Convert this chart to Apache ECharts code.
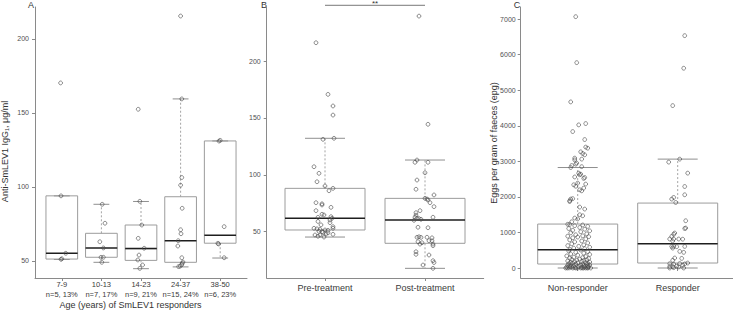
<!DOCTYPE html>
<html><head><meta charset="utf-8">
<script src="https://cdn.jsdelivr.net/npm/echarts@6/dist/echarts.min.js"></script>
<style>html,body{margin:0;padding:0;background:#fff}#c{width:733px;height:310px}</style>
</head><body><div id="c"></div>
<script>
// ---------- Panel A: anti-SmLEV1 IgG1 by age group ----------
const ageCategories = ['7-9', '10-13', '14-23', '24-37', '38-50'];
const ageCounts = ['n=5, 13%', 'n=7, 17%', 'n=9, 21%', 'n=15, 24%', 'n=6, 23%'];
// [lower whisker, Q1, median, Q3, upper whisker]
const ageBoxStats = [
  [51.0, 51.3, 55.2, 94.0, 94.0],
  [49.1, 52.5, 58.8, 68.7, 88.3],
  [44.8, 50.4, 58.4, 74.3, 90.2],
  [46.0, 49.1, 63.7, 93.4, 159.5],
  [52.0, 62.0, 67.4, 131.1, 131.1]
];
const ageValues = [
  [170.3, 94.0, 55.2, 51.1, 51.5],
  [88.3, 75.5, 63.0, 58.8, 52.5, 52.5, 49.1],
  [152.5, 90.3, 74.3, 65.3, 58.6, 54.0, 50.7, 47.3, 45.0],
  [215.5, 159.5, 106.4, 101.2, 85.6, 71.1, 68.4, 63.7, 60.1, 52.2, 49.3, 48.5, 47.5, 46.5, 46.2],
  [131.5, 131.0, 73.2, 61.9, 61.5, 52.2]
];
const ageJitter = [
  [-0.03, -0.02, 0.10, -0.02, 0.00],
  [0.02, 0.09, -0.04, 0.05, -0.01, 0.05, 0.01],
  [-0.07, -0.03, 0.02, -0.07, 0.08, -0.05, -0.08, 0.04, -0.03],
  [0.00, 0.03, 0.03, 0.00, 0.04, 0.00, 0.01, -0.06, -0.07, 0.03, 0.06, 0.04, 0.03, -0.01, -0.05],
  [0.00, -0.03, 0.10, -0.06, -0.04, 0.10]
];

// ---------- Panel B: pre vs post treatment ----------
const treatCategories = ['Pre-treatment', 'Post-treatment'];
const treatBoxStats = [
  [45.3, 51.5, 61.8, 88.1, 132.1],
  [17.8, 39.8, 60.3, 79.3, 113.0]
];
const preValues = [216.1, 170.7, 160.5, 152.5, 131.2, 132.1, 107.1, 101.3, 93.9, 90.2, 88.1, 86.0, 75.5, 74.5, 73.5,
  71.4, 68.5, 65.3, 64.7, 63.2, 62.6, 61.8, 60.3, 59.0, 57.9, 56.0, 54.4, 53.0, 53.0, 52.5, 52.0, 51.5, 51.2, 50.3,
  50.0, 49.4, 49.0, 48.0, 47.1, 47.1, 47.7, 46.0, 45.3];
const preJitter = [-0.09, 0.03, 0.08, 0.08, -0.02, 0.09, -0.11, -0.06, -0.08, 0.00, 0.08, 0.04, -0.09, -0.03, -0.03,
  0.06, -0.09, -0.03, -0.01, 0.06, -0.07, 0.07, 0.05, -0.07, 0.05, -0.04, 0.08, 0.08, -0.11, -0.08, -0.05, 0.00, 0.03, -0.06,
  -0.03, -0.02, 0.03, 0.01, -0.10, -0.05, 0.08, -0.07, -0.01];
const postValues = [239.5, 144.4, 113.0, 111.0, 111.0, 101.8, 95.4, 87.3, 82.3, 79.3, 78.7, 77.9, 75.5, 72.0, 68.5,
  66.7, 64.5, 62.7, 62.7, 61.8, 61.5, 60.9, 60.0, 53.9, 53.5, 45.5, 45.1, 45.0, 45.1, 44.6, 42.1, 42.0, 41.2, 40.3,
  39.1, 39.1, 37.7, 32.4, 30.1, 29.5, 24.5, 22.9, 20.7, 17.8];
const postJitter = [-0.06, 0.03, -0.08, -0.10, 0.03, 0.00, -0.08, -0.09, 0.09, 0.00, 0.02, 0.03, 0.05, 0.09, -0.05,
  -0.09, -0.09, 0.08, -0.10, -0.08, -0.06, -0.04, -0.11, -0.07, 0.03, -0.06, -0.08, -0.04, 0.02, 0.07, 0.04, 0.07, -0.07, -0.03,
  -0.05, 0.08, 0.08, -0.09, -0.09, 0.04, 0.08, 0.09, -0.02, 0.08];
const significance = '**';

// ---------- Panel C: eggs per gram by responder status ----------
const respCategories = ['Non-responder', 'Responder'];
const respBoxStats = [
  [0, 112, 514, 1236, 2826],
  [0, 140, 683, 1826, 3062]
];
const nonRespValues = [7068, 5775, 4671, 4062, 4025, 3837, 3612, 3400, 3370, 3267, 3220, 3183, 3090, 3062, 3040, 2949, 2921, 2882, 2850,
  2826, 2668, 2640, 2621, 2560, 2545, 2520, 2387, 2340, 2300, 2360, 2247, 2199, 2170, 1950, 1938, 1890, 1871, 1713, 1657, 1497, 1469, 1404, 1380, 1300,
  1230, 1225, 1210, 1190, 1170, 1140, 1110, 1090, 1060, 1045, 1020, 990, 960, 935, 905, 895, 880, 870, 850, 820, 790, 760, 735, 705, 680, 650, 630, 610, 585, 560, 545, 525,
  505, 480, 460, 440, 415, 395, 380, 360, 340, 322, 305, 292, 278, 265, 252, 240, 232, 220, 210, 198, 185, 176, 168, 160, 150, 142, 135, 128, 120, 114,
  108, 100, 95, 88, 80, 75, 68, 60, 55, 48, 42, 36, 30, 25, 20, 15, 10, 8, 5, 3, 0, 0, 0, 0, 0, 0, 0, 0, 0, 0];
const nonRespJitter = [-0.02, -0.01, -0.07, 0.08, 0.01, -0.05, 0.07, 0.08, 0.10, 0.03, 0.05, 0.07, -0.03, 0.04, -0.03, -0.01, -0.02, -0.06, 0.04,
  -0.07, 0.01, 0.03, 0.02, -0.03, 0.07, 0.06, 0.00, -0.04, -0.02, 0.08, 0.06, 0.02, 0.04, -0.05, -0.07, -0.08, -0.08, 0.02, 0.07, 0.02, 0.05, -0.03, 0.00, -0.06,
  -0.10, -0.08, 0.05, -0.03, 0.10, 0.02, -0.09, 0.07, -0.05, 0.12, 0.03, -0.07, 0.09, -0.02, 0.05, -0.10, 0.11, 0.00, -0.05, 0.08, -0.08, 0.04, -0.03, 0.10, -0.06, 0.06, -0.10, 0.01, 0.12, -0.04, 0.07, -0.08,
  0.03, -0.09, 0.10, -0.02, 0.06, -0.07, 0.12, 0.00, -0.11, 0.08, -0.04, 0.05, -0.08, 0.11, 0.02, -0.06, 0.09, -0.01, 0.06, -0.10, 0.04, -0.03, 0.12, -0.07, 0.08, 0.00, -0.05, 0.10, -0.09, 0.05,
  -0.02, 0.09, -0.07, 0.12, 0.03, -0.10, 0.06, -0.04, 0.10, -0.08, 0.01, 0.11, -0.06, 0.07, -0.11, 0.04, -0.03, 0.10, -0.08, 0.06, -0.10, -0.05, 0.00, 0.05, 0.10, 0.13, -0.12, 0.08, -0.02, 0.03];
const respValues = [6534, 5618, 4567, 3062, 2978, 2668, 2292, 2059, 1984, 1938, 1843, 1329, 1124, 1110, 983, 950, 888, 815, 815, 815, 810,
  760, 607, 610, 600, 607, 560, 467, 440, 281, 270, 215, 140, 125, 121, 115, 110, 80, 50, 45, 40, 30, 10, 0, 0];
const respJitter = [0.07, 0.06, -0.05, 0.02, -0.09, 0.10, 0.07, 0.07, -0.04, -0.06, -0.02, 0.08, 0.08, 0.07, -0.03, -0.04, -0.06, -0.08, -0.04, 0.01, 0.05,
  -0.05, -0.06, -0.04, -0.01, 0.07, -0.05, 0.02, 0.06, -0.03, 0.04, -0.05, 0.10, 0.02, -0.08, 0.07, -0.04, 0.05, -0.01, -0.08, -0.05, 0.01, -0.04, -0.08, 0.06];

// ---------- helpers ----------
const FONT = 'Liberation Sans, Arial, Helvetica, sans-serif';
const AXIS_COLOR = '#8a8a8a';
const TICK_TEXT = '#505050';
function boxData(stats) { return stats.map((s, i) => [i].concat(s)); }
function pointData(values, jitter, idx) { return values.map((v, k) => [idx + jitter[k], v]); }
function groupPoints(valueGroups, jitterGroups) {
  let out = [];
  valueGroups.forEach((g, i) => { out = out.concat(pointData(g, jitterGroups[i], i)); });
  return out;
}
function boxRender(params, api) {
  const x = api.value(0);
  const lo = api.coord([x, api.value(1)]), q1 = api.coord([x, api.value(2)]), md = api.coord([x, api.value(3)]);
  const q3 = api.coord([x, api.value(4)]), hi = api.coord([x, api.value(5)]);
  const bw = api.size([1, 0])[0] * 0.8;
  const cx = lo[0];
  const wh = { stroke: '#9a9a9a', lineWidth: 0.9, lineDash: [2, 2] };
  const cap = { stroke: '#8f8f8f', lineWidth: 1 };
  return { type: 'group', children: [
    { type: 'line', shape: { x1: cx, y1: q3[1], x2: cx, y2: hi[1] }, style: wh },
    { type: 'line', shape: { x1: cx, y1: q1[1], x2: cx, y2: lo[1] }, style: wh },
    { type: 'line', shape: { x1: cx - bw / 4, y1: hi[1], x2: cx + bw / 4, y2: hi[1] }, style: cap },
    { type: 'line', shape: { x1: cx - bw / 4, y1: lo[1], x2: cx + bw / 4, y2: lo[1] }, style: cap },
    { type: 'rect', shape: { x: cx - bw / 2, y: q3[1], width: bw, height: q1[1] - q3[1] }, style: { fill: 'none', stroke: '#9c9c9c', lineWidth: 1 } },
    { type: 'line', shape: { x1: cx - bw / 2, y1: md[1], x2: cx + bw / 2, y2: md[1] }, style: { stroke: '#1e1e1e', lineWidth: 1.6 } }
  ] };
}
function sigRender(params, api) {
  const p0 = api.coord([api.value(0), api.value(2)]);
  const p1 = api.coord([api.value(1), api.value(2)]);
  return { type: 'group', children: [
    { type: 'line', shape: { x1: p0[0], y1: p0[1], x2: p1[0], y2: p1[1] }, style: { stroke: '#777', lineWidth: 1 } },
    { type: 'text', style: { text: significance, x: (p0[0] + p1[0]) / 2, y: p0[1] + 2.5, align: 'center', verticalAlign: 'bottom', fontSize: 8, fontFamily: FONT, fill: '#333' } }
  ] };
}

const grids = [
  { left: 35, top: 7, width: 212, height: 271 },
  { left: 42, top: 7, width: 198, height: 271 },
  { left: 266.7, top: 7, width: 217, height: 271 },
  { left: 275, top: 7, width: 200, height: 271 },
  { left: 520.7, top: 7, width: 212.3, height: 271 },
  { left: 527.7, top: 7, width: 200, height: 271 }
].map(g => Object.assign({ containLabel: false, outerBoundsMode: 'none' }, g));

function outerX(gi) {
  return { gridIndex: gi, type: 'value', min: 0, max: 1, axisLine: { show: true, onZero: false, lineStyle: { color: AXIS_COLOR } },
    axisTick: { show: false }, axisLabel: { show: false }, splitLine: { show: false } };
}
function catX(gi, data, fs, lh, margin) {
  return { gridIndex: gi, type: 'category', position: 'bottom', data: data, axisLine: { show: false },
    axisTick: { show: true, alignWithLabel: true, length: 3, lineStyle: { color: AXIS_COLOR } },
    axisLabel: { fontSize: fs, lineHeight: lh, color: '#3a3a3a', fontFamily: FONT, margin: margin, interval: 0 },
    splitLine: { show: false } };
}
function valX(gi, n) { return { gridIndex: gi, type: 'value', min: -0.5, max: n - 0.5, show: false }; }
function outerY(gi, min, max, ticks, margin) {
  return { gridIndex: gi, type: 'value', min: min, max: max,
    axisLine: { show: true, onZero: false, lineStyle: { color: AXIS_COLOR } },
    axisTick: { show: true, length: 3, customValues: ticks, lineStyle: { color: AXIS_COLOR } },
    axisLabel: { customValues: ticks, fontSize: 7, color: TICK_TEXT, textStyle: { color: TICK_TEXT }, fontFamily: FONT, margin: margin, formatter: v => String(v) },
    splitLine: { show: false } };
}
function innerY(gi, min, max) { return { gridIndex: gi, type: 'value', min: min, max: max, show: false }; }

const yA = [38.5, 221.6], yB = [9.3, 247.5], yC = [-281, 7340];
const ticksA = [50, 100, 150, 200], ticksB = [50, 100, 150, 200], ticksC = [0, 1000, 2000, 3000, 4000, 5000, 6000, 7000];

const pointStyle = { color: 'rgba(255,255,255,0)', borderColor: '#4a4a4a', borderWidth: 0.8 };

const option = {
  animation: false,
  backgroundColor: '#fff',
  textStyle: { color: TICK_TEXT, fontFamily: FONT },
  grid: grids,
  xAxis: [
    outerX(0), catX(1, ageCategories.map((c, i) => c + '\n' + ageCounts[i]), 7.5, 9.7, 2), valX(1, ageCategories.length),
    outerX(2), catX(3, treatCategories, 9, 11, 4), valX(3, treatCategories.length),
    outerX(4), catX(5, respCategories, 9, 11, 4), valX(5, respCategories.length)
  ],
  yAxis: [
    outerY(0, yA[0], yA[1], ticksA, 6), innerY(1, yA[0], yA[1]),
    outerY(2, yB[0], yB[1], ticksB, 6), innerY(3, yB[0], yB[1]),
    outerY(4, yC[0], yC[1], ticksC, 5), innerY(5, yC[0], yC[1])
  ],
  series: [
    { type: 'custom', xAxisIndex: 2, yAxisIndex: 1, renderItem: boxRender, data: boxData(ageBoxStats), encode: { x: 0, y: [1, 2, 3, 4, 5] }, z: 2 },
    { type: 'scatter', xAxisIndex: 2, yAxisIndex: 1, data: groupPoints(ageValues, ageJitter), symbol: 'circle', symbolSize: 3.8, itemStyle: pointStyle, z: 3 },
    { type: 'custom', xAxisIndex: 5, yAxisIndex: 3, renderItem: boxRender, data: boxData(treatBoxStats), encode: { x: 0, y: [1, 2, 3, 4, 5] }, z: 2 },
    { type: 'scatter', xAxisIndex: 5, yAxisIndex: 3, data: pointData(preValues, preJitter, 0).concat(pointData(postValues, postJitter, 1)), symbol: 'circle', symbolSize: 3.8, itemStyle: pointStyle, z: 3 },
    { type: 'custom', xAxisIndex: 5, yAxisIndex: 3, renderItem: sigRender, data: [[0, 1, 249]], encode: { x: [0, 1], y: 2 }, clip: false, z: 4 },
    { type: 'custom', xAxisIndex: 8, yAxisIndex: 5, renderItem: boxRender, data: boxData(respBoxStats), encode: { x: 0, y: [1, 2, 3, 4, 5] }, z: 2 },
    { type: 'scatter', xAxisIndex: 8, yAxisIndex: 5, data: pointData(nonRespValues, nonRespJitter, 0).concat(pointData(respValues, respJitter, 1)), symbol: 'circle', symbolSize: 3.8, itemStyle: pointStyle, z: 3 }
  ],
  graphic: [
    { type: 'text', x: 31, y: 5, style: { text: 'A', align: 'center', verticalAlign: 'middle', fontSize: 9, fontFamily: FONT, fill: '#333' } },
    { type: 'text', x: 264, y: 5, style: { text: 'B', align: 'center', verticalAlign: 'middle', fontSize: 9, fontFamily: FONT, fill: '#333' } },
    { type: 'text', x: 517, y: 5, style: { text: 'C', align: 'center', verticalAlign: 'middle', fontSize: 9, fontFamily: FONT, fill: '#333' } },
    { type: 'text', x: 5, y: 151.5, rotation: Math.PI / 2, style: { text: 'Anti-SmLEV1 IgG₁, μg/ml', align: 'center', verticalAlign: 'middle', fontSize: 9, fontFamily: FONT, fill: '#333' } },
    { type: 'text', x: 130.5, y: 305, style: { text: 'Age (years) of SmLEV1 responders', align: 'center', verticalAlign: 'middle', fontSize: 9, fontFamily: FONT, fill: '#333' } },
    { type: 'text', x: 494, y: 143, rotation: Math.PI / 2, style: { text: 'Eggs per gram of faeces (epg)', align: 'center', verticalAlign: 'middle', fontSize: 9, fontFamily: FONT, fill: '#333' } }
  ]
};
const chart = echarts.init(document.getElementById('c'), null, { renderer: 'svg' });
chart.setOption(option);
</script>
</body></html>
